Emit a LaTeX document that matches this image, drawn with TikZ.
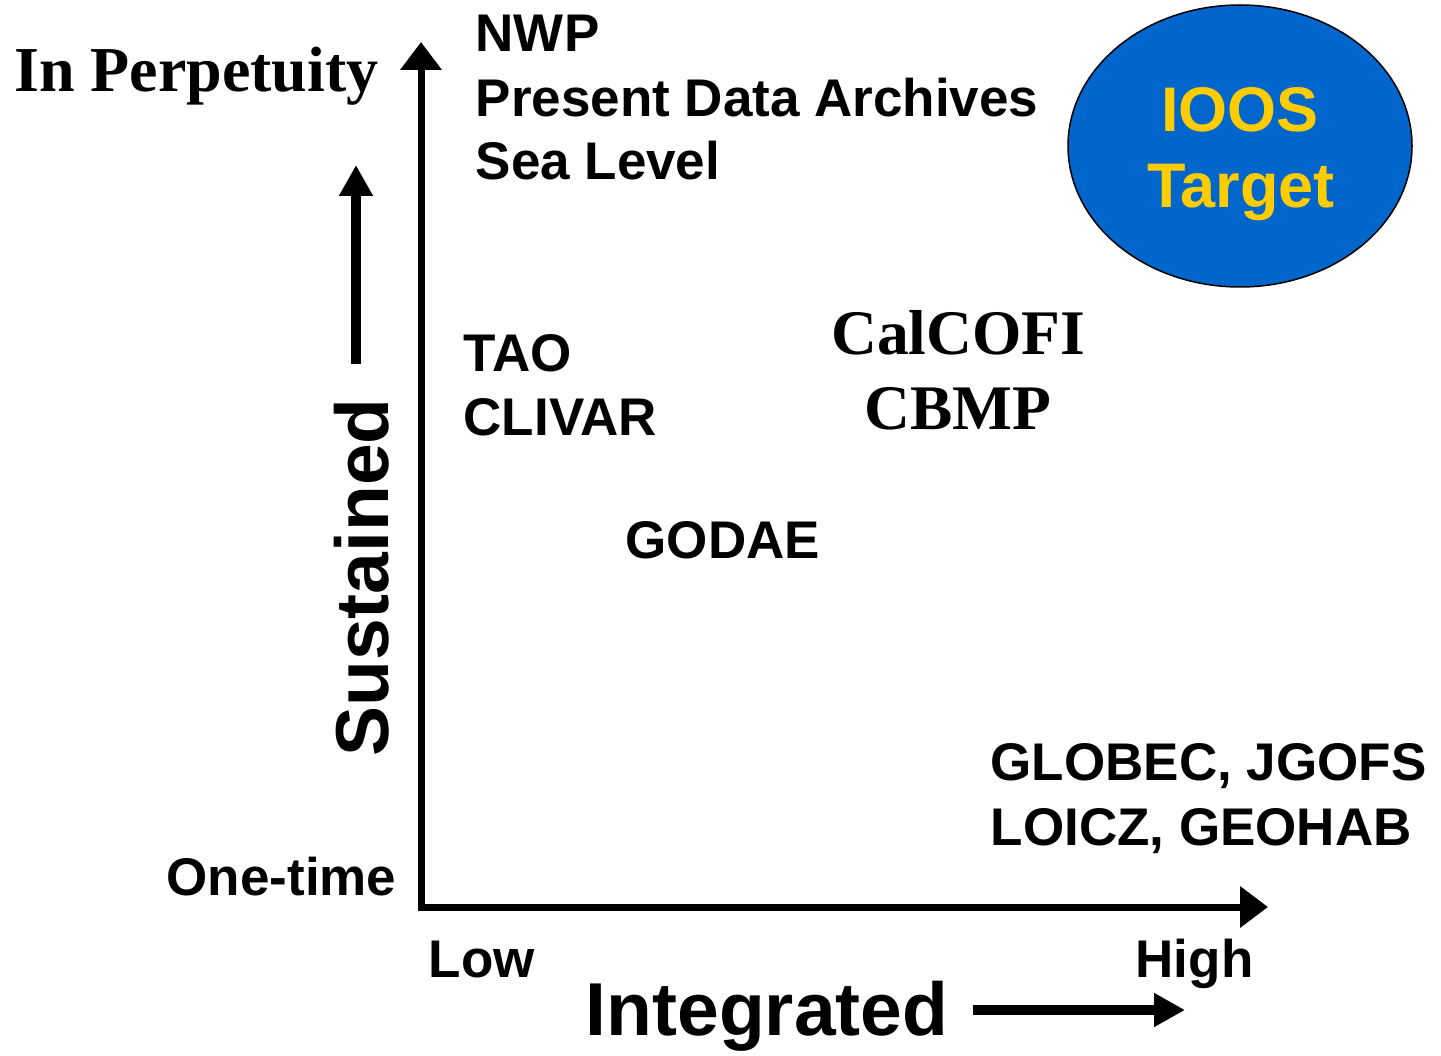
\documentclass[tikz,border=0pt]{standalone}
\usepackage{fontspec}
\setmainfont{Liberation Serif}
\setsansfont{Liberation Sans}
\usetikzlibrary{arrows.meta,shapes.geometric}
\definecolor{ioosblue}{RGB}{0,102,204}
\definecolor{iooyellow}{RGB}{255,204,0}
\tikzset{
  lbl/.style={inner sep=0pt, anchor=base west, font=\fontsize{53}{64}\selectfont\sffamily\bfseries},
  serlbl/.style={inner sep=0pt, anchor=base west, font=\fontsize{64}{76}\selectfont\rmfamily\bfseries},
  axisline/.style={line width=7pt, -{Triangle[length=28pt,width=40pt]}},
  thickarrow/.style={line width=10pt, -{Triangle[length=31pt,width=32pt]}},
  targettext/.style={inner sep=0pt, anchor=base, text=iooyellow, font=\fontsize{63}{70}\selectfont\sffamily\bfseries}
}
\begin{document}
\begin{tikzpicture}[x=1pt,y=-1pt]
\useasboundingbox (0,0) rectangle (1441,1056);
% axes
\coordinate (origin) at (421,907);
\coordinate (ytop) at (421,42);
\coordinate (xend) at (1268,907);
\draw[axisline] ([yshift=-3.5pt]origin) -- (ytop);
\draw[axisline] ([xshift=-3.5pt]origin) -- (xend);
% target ellipse
\node[ellipse, draw=black, line width=1.5pt, fill=ioosblue, minimum width=344pt, minimum height=282pt, inner sep=0pt] (target) at (1240,146) {};
\node[targettext] (ioos) at (1240,132) {IOOS};
\node[targettext] (tgt) at (1241,208) {Target};
% y-axis labels
\node[serlbl] (perp) at (14,92) {In Perpetuity};
\node[lbl] (onetime) at (166.5,895) {One-time};
\node[inner sep=0pt, anchor=base west, rotate=90, font=\fontsize{75}{80}\selectfont\sffamily\bfseries] (sust) at (388,757) {Sustained};
\coordinate (sa0) at (356,364);
\coordinate (sa1) at (356,165);
\draw[thickarrow] (sa0) -- (sa1);
% x-axis labels
\node[lbl] (low) at (428.5,977) {Low};
\node[lbl] (high) at (1135.5,977) {High};
\node[inner sep=0pt, anchor=base west, font=\fontsize{75}{80}\selectfont\sffamily\bfseries] (integ) at (585.5,1035) {Integrated};
\coordinate (ia0) at (973,1010);
\coordinate (ia1) at (1185,1010);
\draw[thickarrow] (ia0) -- (ia1);
% programmes
\node[lbl] (nwp) at (475.5,52) {NWP};
\node[lbl] (pda) at (475.5,117) {Present Data Archives};
\node[lbl] (sea) at (475.5,180) {Sea Level};
\node[lbl] (tao) at (463.5,372) {TAO};
\node[lbl] (clivar) at (463.5,436) {CLIVAR};
\node[lbl] (godae) at (625.5,558) {GODAE};
\node[serlbl, font=\fontsize{63.5}{70}\selectfont\rmfamily\bfseries] (calcofi) at (831,355) {CalCOFI};
\node[serlbl, font=\fontsize{63.5}{70}\selectfont\rmfamily\bfseries] (cbmp) at (864,430) {CBMP};
\node[lbl] (globec) at (990.5,780) {GLOBEC, JGOFS};
\node[lbl] (loicz) at (990.5,845) {LOICZ, GEOHAB};
\end{tikzpicture}
\end{document}
